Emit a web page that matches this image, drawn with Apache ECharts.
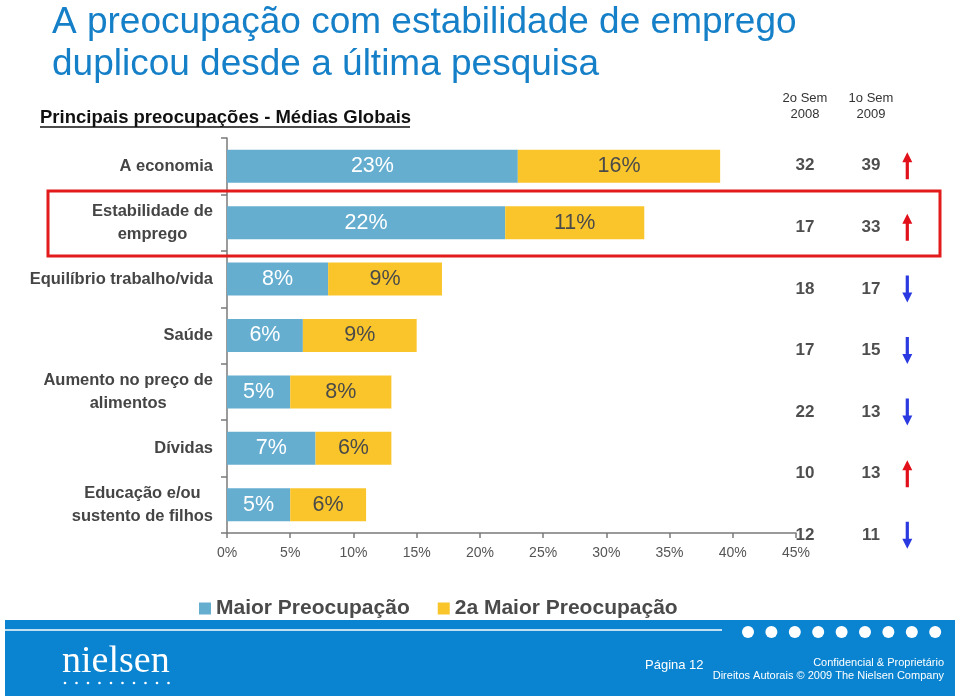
<!DOCTYPE html>
<html>
<head>
<meta charset="utf-8">
<script src="https://cdn.jsdelivr.net/npm/echarts@6/dist/echarts.min.js"></script>
<style>html,body{margin:0;padding:0;background:#fff;}#c{width:960px;height:696px;}</style>
</head>
<body>
<div id="c"></div>
<script>
// ---- data ----
const categories = [
  'A economia',
  'Estabilidade de\nemprego',
  'Equilíbrio trabalho/vida',
  'Saúde',
  'Aumento no preço de\nalimentos',
  'Dívidas',
  'Educação e/ou\nsustento de filhos'
];
const maiorPreocupacao = [23, 22, 8, 6, 5, 7, 5];
const segundaPreocupacao = [16, 11, 9, 9, 8, 6, 6];
const sem2008 = [32, 17, 18, 17, 22, 10, 12];
const sem2009 = [39, 33, 17, 15, 13, 13, 11];
const xTicks = [0, 5, 10, 15, 20, 25, 30, 35, 40, 45];
const seriesNames = ['Maior Preocupação', '2a Maior Preocupação'];
const colHeaders = ['2o Sem\n2008', '1o Sem\n2009'];

const BLUE = '#66aed0', YELLOW = '#f9c52b';
const FONT = '"Liberation Sans", Arial, Helvetica, sans-serif';

const chart = echarts.init(document.getElementById('c'));

const valuePoints = [];
categories.forEach((c, i) => {
  valuePoints.push({ value: [0, i], label: { formatter: String(sem2008[i]) } });
  valuePoints.push({ value: [1, i], label: { formatter: String(sem2009[i]) } });
});
const arrowUp = 'path://M5,0 L10,10 L6.6,10 L6.6,27 L3.4,27 L3.4,10 L0,10 Z';
const arrowDown = 'path://M3.4,0 L6.6,0 L6.6,17 L10,17 L5,27 L0,17 L3.4,17 Z';
const arrowPoints = categories.map((c, i) => {
  const up = sem2009[i] > sem2008[i];
  return { value: [1.55, i], symbol: up ? arrowUp : arrowDown,
           itemStyle: { color: up ? '#e2101a' : '#2b3ae0', opacity: 1 } };
});

const dots = [];
for (let k = 0; k < 9; k++) {
  dots.push({ type: 'circle', shape: { cx: 748 + k * 23.4, cy: 632, r: 6 }, style: { fill: '#fff' }, z: 11 });
}
const logoDots = [];
for (let k = 0; k < 10; k++) {
  logoDots.push({ type: 'circle', shape: { cx: 65 + k * 11.5, cy: 683, r: 1.3 }, style: { fill: '#fff' }, z: 11 });
}

const option = {
  backgroundColor: '#fff',
  textStyle: { fontFamily: FONT },
  legend: {
    left: 194, top: 593,
    icon: 'rect', itemWidth: 12, itemHeight: 12, itemGap: 28,
    data: seriesNames,
    textStyle: { fontSize: 21, fontWeight: 'bold', color: '#4a4a4a', fontFamily: FONT }
  },
  grid: [
    { left: 227, top: 138, width: 569, height: 395, containLabel: false },
    { left: 805, top: 135, width: 66, height: 431, containLabel: false }
  ],
  xAxis: [
    {
      type: 'value', gridIndex: 0, min: xTicks[0], max: xTicks[xTicks.length - 1], interval: 5,
      axisLine: { show: true, lineStyle: { color: '#7a7a7a', width: 1.5 } },
      axisTick: { show: true, length: 5, lineStyle: { color: '#7a7a7a', width: 1.5 } },
      splitLine: { show: false },
      axisLabel: { formatter: '{value}%', fontSize: 14, color: '#555', margin: 13, fontFamily: FONT }
    },
    { type: 'value', gridIndex: 1, min: 0, max: 1, show: false }
  ],
  yAxis: [
    {
      type: 'category', gridIndex: 0, data: categories, inverse: true,
      axisLine: { show: true, lineStyle: { color: '#7a7a7a', width: 1.5 } },
      axisTick: { show: true, length: 6, lineStyle: { color: '#7a7a7a', width: 1.5 } },
      axisLabel: {
        margin: 14, fontSize: 16.5, fontWeight: 'bold', color: '#454545', fontFamily: FONT,
        lineHeight: 23,
        formatter: v => v.split('\n').map(s => '{c|' + s + '}').join('\n'),
        rich: { c: { align: 'center', fontSize: 16.5, fontWeight: 'bold', color: '#454545', lineHeight: 23, fontFamily: FONT } }
      }
    },
    { type: 'category', gridIndex: 1, data: categories, inverse: true, show: false }
  ],
  series: [
    {
      name: seriesNames[0], type: 'bar', stack: 'a', xAxisIndex: 0, yAxisIndex: 0,
      data: maiorPreocupacao, barWidth: 33, itemStyle: { color: BLUE },
      label: { show: true, position: 'inside', formatter: '{c}%', color: '#fff', fontSize: 21.5, fontFamily: FONT }
    },
    {
      name: seriesNames[1], type: 'bar', stack: 'a', xAxisIndex: 0, yAxisIndex: 0,
      data: segundaPreocupacao, barWidth: 33, itemStyle: { color: YELLOW },
      label: { show: true, position: 'inside', formatter: '{c}%', color: '#4a4a4a', fontSize: 21.5, fontFamily: FONT }
    },
    {
      type: 'scatter', xAxisIndex: 1, yAxisIndex: 1, symbolSize: 0, silent: true, clip: false,
      data: valuePoints,
      label: { show: true, position: 'inside', fontSize: 17, fontWeight: 'bold', color: '#222', fontFamily: FONT }
    },
    {
      type: 'scatter', xAxisIndex: 1, yAxisIndex: 1, symbolSize: [10, 27], silent: true, clip: false,
      data: arrowPoints
    }
  ],
  graphic: [
    { type: 'text', left: 52, top: 4, style: { text: 'A preocupação com estabilidade de emprego', fontSize: 37, fill: '#1580c8', fontFamily: FONT } },
    { type: 'text', left: 52, top: 46, style: { text: 'duplicou desde a última pesquisa', fontSize: 37, fill: '#1580c8', fontFamily: FONT } },
    { type: 'text', left: 40, top: 108, style: { text: 'Principais preocupações - Médias Globais', fontSize: 18.5, fontWeight: 'bold', fill: '#111', fontFamily: FONT } },
    { type: 'line', shape: { x1: 40, y1: 127, x2: 410, y2: 127 }, style: { stroke: '#111', lineWidth: 1.3 } },
    { type: 'text', x: 805, y: 106, style: { text: colHeaders[0], fontSize: 13, fill: '#333', align: 'center', verticalAlign: 'middle', lineHeight: 16, fontFamily: FONT } },
    { type: 'text', x: 871, y: 106, style: { text: colHeaders[1], fontSize: 13, fill: '#333', align: 'center', verticalAlign: 'middle', lineHeight: 16, fontFamily: FONT } },
    { type: 'rect', shape: { x: 48, y: 191, width: 892, height: 65 }, style: { fill: 'none', stroke: '#e41b1b', lineWidth: 3 }, z: 20 },
    { type: 'rect', shape: { x: 5, y: 620, width: 950, height: 76 }, style: { fill: '#0a84d0' }, z: 10 },
    { type: 'line', shape: { x1: 5, y1: 630, x2: 722, y2: 630 }, style: { stroke: '#fff', lineWidth: 1.5 }, z: 11 },
    ...dots,
    { type: 'text', x: 62, y: 662, style: { text: 'nielsen', fontSize: 38, fill: '#fff', verticalAlign: 'middle', fontFamily: '"Liberation Serif", "DejaVu Serif", serif' }, z: 11 },
    ...logoDots,
    { type: 'text', x: 645, y: 665, style: { text: 'Página 12', fontSize: 13, fill: '#fff', verticalAlign: 'middle', fontFamily: FONT }, z: 11 },
    { type: 'text', x: 944, y: 663, style: { text: 'Confidencial & Proprietário', fontSize: 11, fill: '#fff', align: 'right', verticalAlign: 'middle', fontFamily: FONT }, z: 11 },
    { type: 'text', x: 944, y: 676, style: { text: 'Direitos Autorais © 2009 The Nielsen Company', fontSize: 11, fill: '#fff', align: 'right', verticalAlign: 'middle', fontFamily: FONT }, z: 11 }
  ]
};
chart.setOption(option);
</script>
</body>
</html>
